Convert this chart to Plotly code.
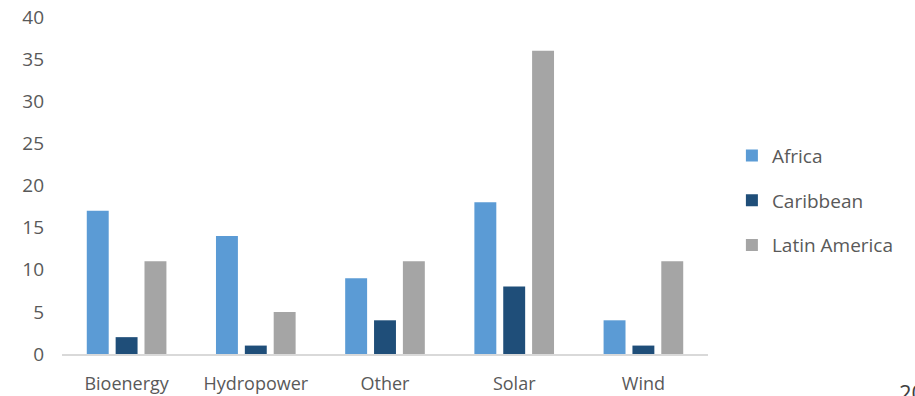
import plotly.graph_objects as go

categories = ["Bioenergy", "Hydropower", "Other", "Solar", "Wind"]
africa = [17, 14, 9, 18, 4]
caribbean = [2, 1, 4, 8, 1]
latin_america = [11, 5, 11, 36, 11]
series_names = ["Africa", "Caribbean", "Latin America"]
colors = ["#5b9bd5", "#1f4e79", "#a5a5a5"]

FONT = "Open Sans, Liberation Sans, sans-serif"
TXT = "#595959"

fig = go.Figure()
for i, (name, vals) in enumerate(zip(series_names, [africa, caribbean, latin_america])):
    fig.add_trace(go.Bar(x=categories, y=vals, name=name, marker_color=colors[i],
                         marker_line_width=0, legendgroup=name))

fig.update_layout(
    width=915, height=396,
    margin=dict(l=62, r=207, t=17, b=42, autoexpand=False),
    paper_bgcolor="white", plot_bgcolor="white",
    barmode="group", bargap=0.33, bargroupgap=0.24,
    font=dict(family=FONT, color=TXT, size=19),
    showlegend=True,
    legend=dict(x=1.037, xanchor="left", y=0.455, yanchor="middle",
                font=dict(size=19, color=TXT), tracegroupgap=17,
                itemwidth=30, traceorder="grouped"),
    xaxis=dict(showline=True, linecolor="#d9d9d9", linewidth=1.5, showgrid=False,
               ticks="", tickfont=dict(size=18, color=TXT), ticklabelstandoff=13,
               automargin=False),
    yaxis=dict(range=[0, 40], dtick=5, showgrid=False, zeroline=False, showline=False,
               ticks="", tickfont=dict(size=19, color=TXT), ticklabelstandoff=17,
               automargin=False),
    annotations=[dict(text="20", xref="paper", yref="paper", x=1.292, y=-0.062,
                      xanchor="left", yanchor="top", showarrow=False,
                      font=dict(size=22, color="#404040"))],
)

fig.write_html("out.html")
